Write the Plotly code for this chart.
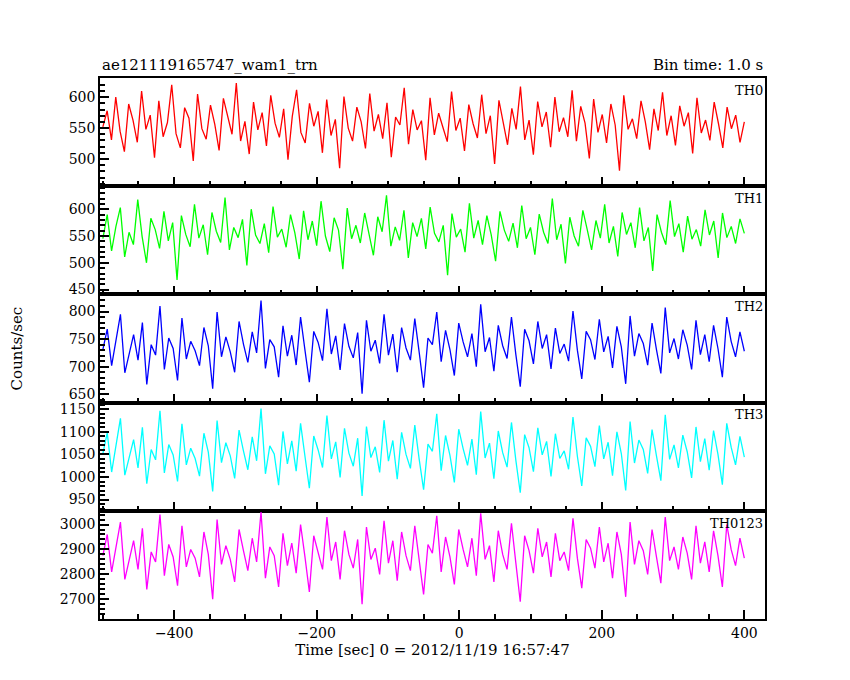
import numpy as np
import plotly.graph_objects as go
from plotly.subplots import make_subplots

th0 = [552,578,531,600,545,512,589,563,527,610,548,571,502,594,536,559,620,541,518,583,566,497,605,549,532,587,556,514,598,571,540,623,529,561,508,592,547,575,521,603,558,535,581,499,569,612,543,526,590,553,577,510,596,538,564,485,601,550,529,584,560,517,606,545,572,533,591,503,568,555,615,524,580,547,562,498,599,539,574,551,528,609,546,566,513,588,557,534,604,541,570,492,595,559,523,582,548,617,531,563,507,593,552,576,519,600,544,567,536,611,529,585,558,501,597,543,572,526,589,555,481,603,548,565,533,594,560,515,581,546,608,538,570,522,586,553,575,509,599,542,563,530,592,557,518,584,549,571,527,560]
th1 = [545,590,522,568,603,511,557,534,618,549,500,583,562,527,596,541,575,468,588,553,530,609,546,571,515,594,559,538,622,524,566,547,581,495,600,552,536,573,519,605,548,563,529,590,556,507,597,543,578,532,615,550,521,584,561,488,602,545,570,537,593,553,514,586,558,626,531,567,542,598,509,575,549,583,526,604,555,539,570,477,592,548,563,520,611,546,579,534,588,552,503,596,561,540,574,528,607,545,566,515,591,557,536,620,543,572,499,585,550,531,598,562,524,579,546,609,537,568,512,594,553,575,528,603,541,566,485,590,557,534,616,549,573,520,587,544,562,531,599,552,578,509,593,547,568,536,582,555]
th2 = [731,768,702,745,795,689,726,758,712,780,668,740,721,810,695,752,733,675,788,714,746,729,702,771,738,660,799,718,754,727,690,782,741,708,763,725,820,697,749,736,681,774,719,757,703,790,730,672,764,744,711,805,723,756,694,778,737,716,762,651,784,728,748,706,795,721,759,690,771,734,712,787,726,662,752,740,799,709,766,731,684,779,745,718,760,700,813,727,753,692,775,738,715,790,722,664,768,747,705,782,733,758,696,770,724,741,710,801,730,678,764,749,713,786,727,755,698,773,736,669,792,719,760,742,703,779,731,688,807,725,751,714,767,739,695,784,722,758,709,775,733,681,790,746,718,763,728]
th3 = [1052,1098,1011,1066,1130,1004,1045,1083,1020,1110,985,1061,1038,1147,1009,1072,1049,990,1118,1027,1064,1041,1002,1097,1055,968,1125,1032,1076,1047,997,1104,1058,1016,1089,1036,1152,1007,1069,1051,982,1101,1029,1080,1013,1119,1046,975,1091,1060,1021,1136,1040,1078,999,1108,1053,1024,1086,958,1112,1043,1067,1010,1126,1035,1081,995,1099,1050,1019,1115,1039,972,1073,1057,1140,1014,1092,1048,988,1106,1063,1026,1084,1005,1145,1042,1075,996,1102,1054,1022,1121,1037,965,1094,1065,1012,1109,1049,1079,1001,1096,1041,1058,1017,1133,1046,980,1087,1068,1023,1114,1040,1077,1003,1100,1052,970,1123,1031,1082,1061,1008,1105,1047,992,1138,1039,1071,1020,1093,1056,998,1111,1034,1085,1015,1103,1050,983,1119,1066,1027,1090,1044]
th0123 = [2875,2960,2810,2905,3010,2780,2860,2935,2820,2985,2740,2890,2850,3040,2795,2920,2870,2755,2995,2830,2900,2865,2790,2970,2880,2700,3020,2840,2915,2860,2770,2980,2895,2815,2945,2850,3050,2785,2910,2875,2750,2965,2835,2925,2805,3000,2870,2730,2955,2890,2820,3030,2855,2930,2780,2975,2880,2825,2940,2680,2990,2860,2905,2800,3015,2845,2935,2775,2970,2875,2815,2995,2850,2720,2920,2885,3035,2810,2950,2870,2760,2980,2900,2830,2945,2795,3045,2860,2915,2770,2975,2880,2820,3005,2845,2690,2955,2895,2805,2985,2870,2930,2790,2965,2855,2890,2815,3025,2865,2745,2940,2905,2825,2990,2850,2925,2785,2970,2880,2710,3010,2840,2935,2895,2800,2980,2870,2765,3030,2855,2910,2820,2950,2885,2780,2995,2845,2930,2810,2975,2875,2750,3000,2900,2835,2945,2865]

series = [th0, th1, th2, th3, th0123]
names = ["TH0", "TH1", "TH2", "TH3", "TH0123"]
colors = ["#ff0000", "#00ff00", "#0000ff", "#00ffff", "#ff00ff"]
yranges = [[456, 631], [441, 643], [635, 831], [925, 1165], [2621, 3055]]
ytickvals = [[500, 550, 600], [450, 500, 550, 600], [650, 700, 750, 800],
             [950, 1000, 1050, 1100, 1150], [2700, 2800, 2900, 3000]]
t_start, t_end = -500, 400

font = "DejaVu Serif"
fig = make_subplots(rows=5, cols=1, shared_xaxes=True, vertical_spacing=0)
for i, (v, n, c) in enumerate(zip(series, names, colors)):
    t = np.linspace(t_start, t_end, len(v))
    fig.add_trace(go.Scatter(x=t, y=v, mode="lines", line=dict(color=c, width=1.3),
                             name=n, showlegend=False), row=i+1, col=1)
    fig.update_yaxes(range=yranges[i], tickvals=ytickvals[i], row=i+1, col=1)
    dom = fig.layout[f"yaxis{'' if i==0 else i+1}"].domain
    fig.add_annotation(x=1, y=dom[1] - 0.005, xref="paper", yref="paper", text=n,
                       showarrow=False, xanchor="right", yanchor="top",
                       font=dict(family=font, size=13, color="black"))

fig.update_xaxes(range=[-504, 429], showline=True, linecolor="black", linewidth=1.5, mirror=True,
                 ticks="inside", ticklen=9, tickwidth=1.5, tickcolor="black", showgrid=False,
                 zeroline=False, tickvals=[-400, -200, 0, 200, 400], automargin=False,
                 minor=dict(ticks="inside", ticklen=5, dtick=50, tickcolor="black"))
fig.update_yaxes(showline=True, linecolor="black", linewidth=1.5, mirror=True, ticks="inside",
                 ticklen=9, tickwidth=1.5, tickcolor="black", showgrid=False, zeroline=False,
                 automargin=False, minor=dict(ticks="inside", ticklen=5, tickcolor="black"))
fig.update_xaxes(title_text="Time [sec] 0 = 2012/11/19 16:57:47", title_standoff=2,
                 title_font=dict(size=15), row=5, col=1)

fig.add_annotation(x=0, y=1.003, xref="paper", yref="paper", text="ae121119165747_wam1_trn",
                   showarrow=False, xanchor="left", yanchor="bottom", font=dict(family=font, size=15))
fig.add_annotation(x=1, y=1.003, xref="paper", yref="paper", text="Bin time: 1.0 s",
                   showarrow=False, xanchor="right", yanchor="bottom", font=dict(family=font, size=15))
fig.add_annotation(x=-0.125, y=0.5, xref="paper", yref="paper", text="Counts/sec", textangle=-90,
                   showarrow=False, xanchor="center", font=dict(family=font, size=15))

fig.update_layout(width=850, height=680, margin=dict(l=92, r=93, t=70, b=69),
                  plot_bgcolor="white", paper_bgcolor="white",
                  font=dict(family=font, size=14, color="black"))
fig.write_html("out.html")
